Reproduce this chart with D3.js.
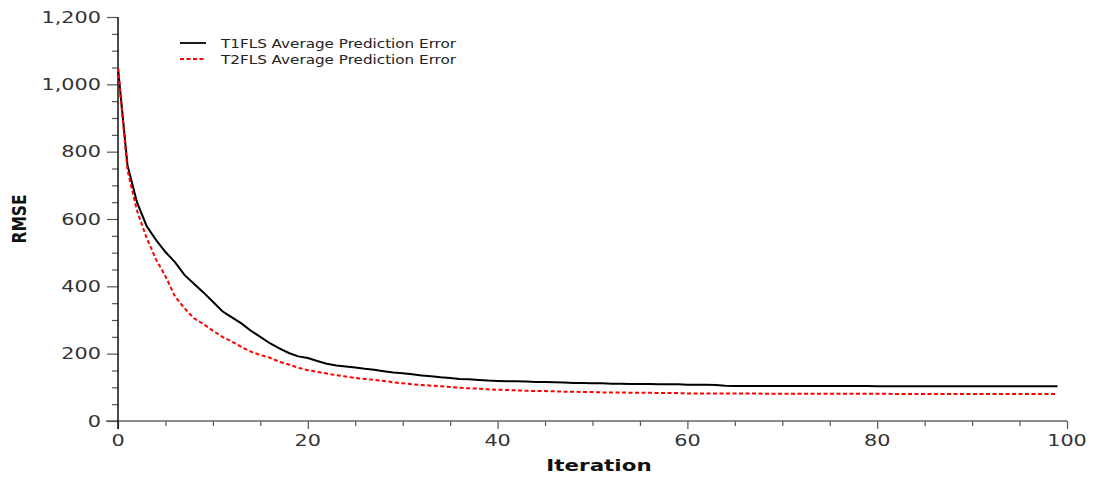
<!DOCTYPE html>
<html><head><meta charset="utf-8">
<script src="https://cdn.jsdelivr.net/npm/d3@7"></script>
<style>body{margin:0;background:#fff}svg{display:block}</style>
</head><body><svg id="c" width="1100" height="478"></svg>
<script>
const iterations = d3.range(0, 100);
const t1Values = [1048,760,650,580,538,502,472,434,408,382,354,326,308,290,268,250,231,216,202,192,
187,178,170,165,162,159,155,152,148,144,142,139,135,133,130,128,125,124,122,120,
119,118,118,117,116,116,115,114,113,113,112,112,111,111,110,110,110,109,109,109,
108,108,108,107,105,104,104,104,104,104,104,104,104,104,104,104,104,104,104,104,
103,103,103,103,103,103,103,103,103,103,103,103,103,103,103,103,103,103,103,103];
const t2Values = [1048,745,625,545,480,430,370,335,305,288,268,250,236,220,206,196,188,176,168,158,
151,146,141,136,132,128,125,122,119,115,112,109,107,105,103,101,99,97,96,94,
93,92,91,90,89,89,88,87,87,86,86,85,85,85,84,84,84,83,83,83,
82,82,82,82,82,82,82,82,81,81,81,81,81,81,81,81,81,81,81,81,
81,81,80,80,80,80,80,80,80,80,80,80,80,80,80,80,80,80,80,80];
const seriesNames = ["T1FLS Average Prediction Error", "T2FLS Average Prediction Error"];
const xMajorTicks = [0, 20, 40, 60, 80, 100];
const yMajorTicks = [0, 200, 400, 600, 800, 1000, 1200];

const svg = d3.select("#c");
const SX = 1.3;
const x = d3.scaleLinear().domain([0, 100]).range([118, 1067]);
const y = d3.scaleLinear().domain([0, 1200]).range([421, 17]);
const fmt = d3.format(",");

// x axis
const gx = svg.append("g").attr("transform", `translate(0,${y(0)})`);
gx.call(d3.axisBottom(x).tickValues(d3.range(0, 101, 5)).tickSize(5).tickFormat(""));
gx.selectAll(".tick").filter(d => d % 20 === 0).select("line").attr("y2", 8);
gx.select(".domain").remove();
gx.selectAll("line").attr("stroke", "#555").attr("stroke-width", 1.2);
svg.append("line").attr("x1", 106).attr("x2", x(100)).attr("y1", y(0)).attr("y2", y(0))
  .attr("stroke", "#666").attr("stroke-width", 1.5);

// y axis
const gy = svg.append("g").attr("transform", `translate(${x(0)},0)`);
gy.call(d3.axisLeft(y).tickValues(d3.range(0, 1201, 50)).tickSize(6).tickFormat(""));
gy.selectAll(".tick").filter(d => d % 200 === 0).select("line").attr("x2", -11);
gy.select(".domain").remove();
gy.selectAll("line").attr("stroke", "#555").attr("stroke-width", 1.2);
svg.append("line").attr("x1", x(0)).attr("x2", x(0)).attr("y1", y(1200)).attr("y2", y(0) + 8)
  .attr("stroke", "#111").attr("stroke-width", 1.5);

// tick labels
svg.append("g").selectAll("text").data(yMajorTicks).join("text")
  .attr("transform", d => `translate(101,${y(d) + 5.5}) scale(${SX},1)`)
  .attr("text-anchor", "end").attr("font-family", "DejaVu Sans").attr("font-size", 16)
  .attr("fill", "#333").text(d => fmt(d));
svg.append("g").selectAll("text").data(xMajorTicks).join("text")
  .attr("transform", d => `translate(${x(d)},446) scale(${SX},1)`)
  .attr("text-anchor", "middle").attr("font-family", "DejaVu Sans").attr("font-size", 16)
  .attr("fill", "#333").text(d => d);

// axis titles
svg.append("text").attr("transform", `translate(599,471) scale(${SX},1)`)
  .attr("text-anchor", "middle").attr("font-family", "DejaVu Sans").attr("font-weight", "bold")
  .attr("font-size", 16.5).attr("fill", "#111").text("Iteration");
svg.append("text").attr("transform", `translate(26,219) scale(${SX},1) rotate(-90)`)
  .attr("text-anchor", "middle").attr("font-family", "DejaVu Sans").attr("font-weight", "bold")
  .attr("font-size", 15.5).attr("fill", "#111").text("RMSE");

// lines
const line = d3.line().x((d, i) => x(iterations[i])).y(d => y(d));
svg.append("path").datum(t1Values).attr("d", line).attr("fill", "none")
  .attr("stroke", "#000").attr("stroke-width", 2);
svg.append("path").datum(t2Values).attr("d", line).attr("fill", "none")
  .attr("stroke", "#ff0000").attr("stroke-width", 2).attr("stroke-dasharray", "4,2.5");

// legend
const styles = [{c: "#000", dash: null}, {c: "#ff0000", dash: "4,2.5"}];
const lg = svg.append("g").selectAll("g").data(seriesNames).join("g")
  .attr("transform", (d, i) => `translate(0,${43 + i * 16})`);
lg.append("line").attr("x1", 180).attr("x2", 206).attr("y1", 0).attr("y2", 0)
  .attr("stroke", (d, i) => styles[i].c).attr("stroke-width", 1.8)
  .attr("stroke-dasharray", (d, i) => styles[i].dash);
lg.append("text").attr("transform", `translate(221,4.5) scale(${SX},1)`)
  .attr("font-family", "DejaVu Sans").attr("font-size", 11.7).attr("fill", "#222").text(d => d);
</script></body></html>
